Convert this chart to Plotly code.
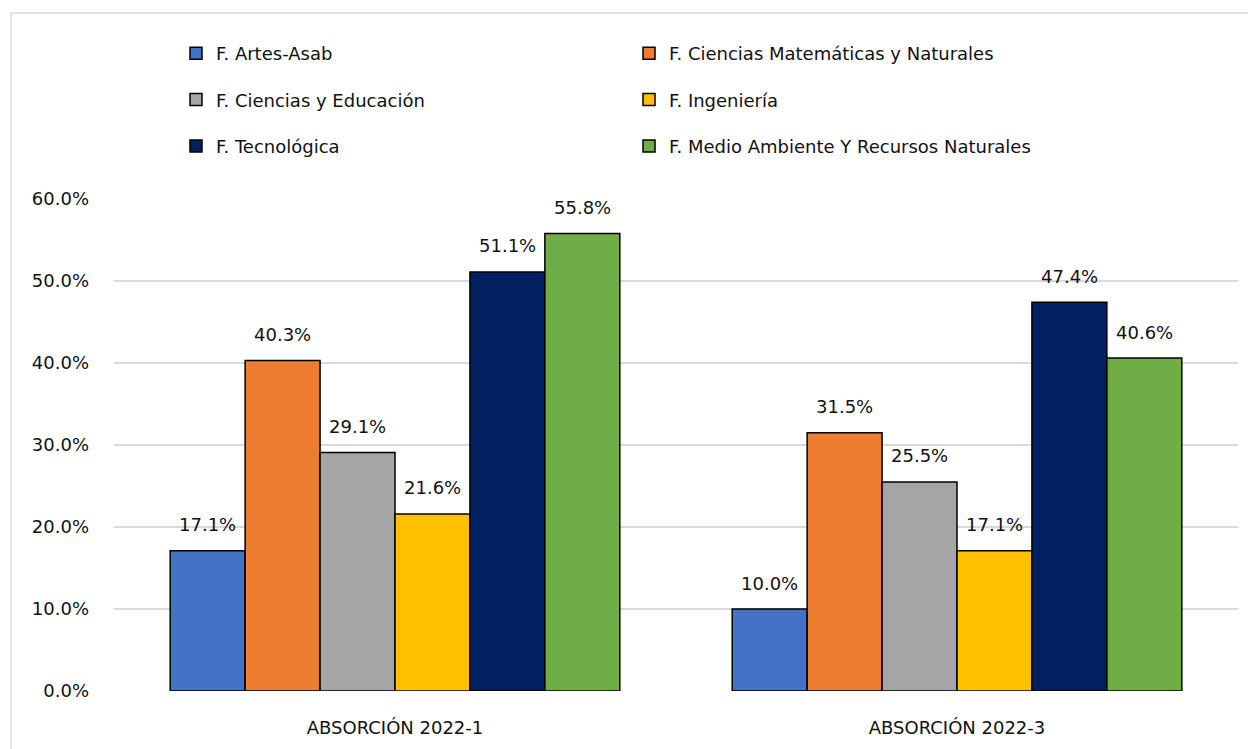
import plotly.graph_objects as go

categories = ["ABSORCIÓN 2022-1", "ABSORCIÓN 2022-3"]
series_names = [
    "F. Artes-Asab",
    "F. Ciencias Matemáticas y Naturales",
    "F. Ciencias y Educación",
    "F. Ingeniería",
    "F. Tecnológica",
    "F. Medio Ambiente Y Recursos Naturales",
]
artes = [0.171, 0.100]
ciencias_mat = [0.403, 0.315]
ciencias_edu = [0.291, 0.255]
ingenieria = [0.216, 0.171]
tecnologica = [0.511, 0.474]
medio_ambiente = [0.558, 0.406]
series_values = [artes, ciencias_mat, ciencias_edu, ingenieria, tecnologica, medio_ambiente]
colors = ["#4472C4", "#ED7D31", "#A5A5A5", "#FFC000", "#002060", "#70AD47"]

FONT = "DejaVu Sans, sans-serif"
TXT = "#111111"
FS = 18
BARGAP = 0.2

fig = go.Figure()
for i, (name, vals, col) in enumerate(zip(series_names, series_values, colors)):
    fig.add_trace(go.Bar(
        x=categories, y=vals, name=name,
        marker=dict(color=col, line=dict(color="#000000", width=1.5)),
        legend="legend" if i % 2 == 0 else "legend2",
        legendgroup=name,
    ))

# data labels placed above each bar of the group
n = len(series_values)
slot = (1 - BARGAP) / n
annotations = []
for i, vals in enumerate(series_values):
    for ci, v in enumerate(vals):
        annotations.append(dict(
            x=ci - (1 - BARGAP) / 2 + (i + 0.5) * slot, y=v,
            xref="x", yref="y", text=f"{v*100:.1f}%", showarrow=False,
            yanchor="middle", yshift=26,
            font=dict(size=FS, color=TXT, family=FONT),
        ))

legend_common = dict(
    orientation="v",
    xref="container", yref="container",
    yanchor="top", xanchor="left",
    font=dict(size=FS, color=TXT, family=FONT),
    tracegroupgap=20,
    bgcolor="rgba(0,0,0,0)",
)
fig.update_layout(
    width=1256, height=749,
    paper_bgcolor="white", plot_bgcolor="white",
    margin=dict(l=106, r=26, t=191, b=66, autoexpand=False),
    barmode="group", bargap=BARGAP, bargroupgap=0,
    font=dict(family=FONT, size=FS, color=TXT),
    showlegend=True,
    legend=dict(x=168 / 1256, y=1 - 27 / 749, **legend_common),
    legend2=dict(x=621 / 1256, y=1 - 27 / 749, **legend_common),
    xaxis=dict(showline=False, ticks="", tickfont=dict(size=FS, color=TXT),
               ticklabelstandoff=24),
    yaxis=dict(range=[0, 0.6], dtick=0.1, tickformat=".1%",
               showgrid=True, gridcolor="#D9D9D9", gridwidth=1.5,
               zeroline=False, showline=False, ticks="",
               ticklabelstandoff=24,
               tickfont=dict(size=FS, color=TXT)),
    annotations=annotations,
    shapes=[dict(type="rect", xref="paper", yref="paper",
                 x0=(3 - 106) / 1124, x1=1.2, y0=-0.5, y1=(683 - 5) / 492,
                 line=dict(color="#D9D9D9", width=1.5), layer="below")],
)

fig.write_html("out.html")
